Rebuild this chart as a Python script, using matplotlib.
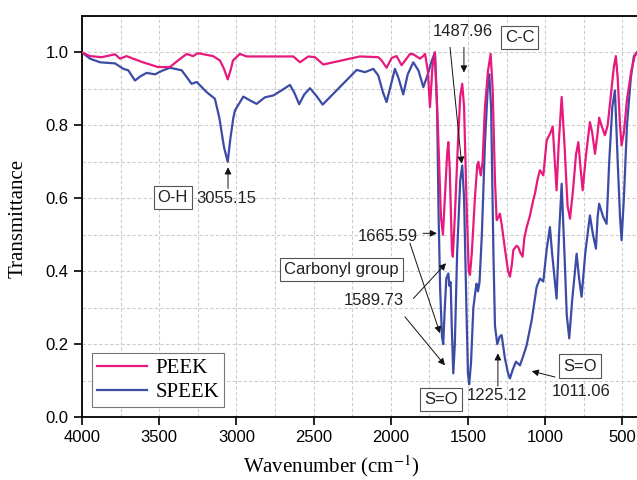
import matplotlib
matplotlib.use("Agg")
import matplotlib.pyplot as plt
from matplotlib.ticker import MultipleLocator

# FTIR spectra (wavenumber, transmittance)
peek_wn = [4000, 3948, 3872, 3786, 3754, 3711, 3669, 3605, 3508, 3430, 3378, 3322, 3281, 3249,
           3151, 3106, 3080, 3056, 3035, 3022, 2977, 2933, 2847, 2761, 2631, 2588, 2534, 2491,
           2437, 2200, 2081, 2059, 2027, 1994, 1962, 1930, 1875, 1854, 1811, 1790, 1778, 1760,
           1746, 1730, 1714, 1695, 1675, 1662, 1650, 1635, 1627, 1618, 1604, 1598, 1585, 1565,
           1550, 1537, 1525, 1510, 1495, 1487, 1475, 1455, 1440, 1433, 1417, 1405, 1390, 1370,
           1353, 1340, 1325, 1314, 1300, 1293, 1282, 1260, 1240, 1228, 1215, 1206, 1185, 1174,
           1160, 1146, 1135, 1120, 1100, 1077, 1066, 1050, 1034, 1012, 990, 965, 951, 940, 926,
           912, 893, 875, 855, 839, 820, 800, 785, 770, 757, 735, 710, 695, 677, 660, 650, 635,
           613, 595, 570, 555, 542, 530, 515, 505, 490, 470, 442, 420, 405]
peek_t = [1.0, 0.99, 0.987, 0.995, 0.983, 0.99, 0.983, 0.973, 0.96, 0.96, 0.978, 0.996, 0.99, 0.998,
          0.99, 0.978, 0.955, 0.926, 0.955, 0.978, 0.996, 0.989, 0.989, 0.989, 0.989, 0.973, 0.989, 0.987,
          0.967, 0.989, 0.987, 0.978, 0.958, 0.985, 0.99, 0.965, 0.996, 0.995, 0.983, 0.99, 0.996, 0.95,
          0.85, 0.96, 1.0, 0.8, 0.55, 0.5, 0.6, 0.72, 0.754, 0.68, 0.46, 0.44, 0.55, 0.75,
          0.88, 0.914, 0.85, 0.6, 0.4, 0.39, 0.45, 0.6, 0.69, 0.7, 0.663, 0.7, 0.85, 0.95,
          0.996, 0.9, 0.65, 0.54, 0.55, 0.558, 0.53, 0.46, 0.4, 0.385, 0.42, 0.458, 0.47, 0.466,
          0.45, 0.44, 0.49, 0.52, 0.55, 0.595, 0.613, 0.65, 0.677, 0.663, 0.759, 0.78, 0.797, 0.72, 0.622,
          0.75, 0.878, 0.75, 0.58, 0.544, 0.62, 0.72, 0.754, 0.68, 0.622, 0.72, 0.809, 0.78, 0.722, 0.78, 0.821, 0.8,
          0.773, 0.8, 0.9, 0.96, 0.99, 0.93, 0.8, 0.745, 0.78, 0.87, 0.95, 0.99, 1.0]

speek_wn = [4000, 3948, 3883, 3786, 3732, 3700, 3657, 3620, 3581, 3527, 3480, 3430, 3354, 3290,
            3257, 3192, 3139, 3110, 3080, 3056, 3040, 3020, 3009, 2955, 2910, 2869, 2815, 2761,
            2707, 2653, 2625, 2593, 2560, 2523, 2480, 2441, 2330, 2221, 2167, 2113, 2081, 2050,
            2027, 2000, 1973, 1950, 1919, 1890, 1854, 1820, 1789, 1760, 1740, 1714, 1700, 1690,
            1680, 1668, 1660, 1650, 1640, 1627, 1620, 1612, 1605, 1595, 1585, 1570, 1550, 1537,
            1525, 1510, 1500, 1492, 1480, 1465, 1450, 1444, 1435, 1425, 1410, 1390, 1370, 1362,
            1350, 1335, 1325, 1310, 1295, 1282, 1260, 1240, 1228, 1210, 1189, 1163, 1140, 1120,
            1087, 1055, 1034, 1012, 990, 969, 955, 926, 910, 893, 875, 860, 844, 825, 796, 780,
            764, 740, 710, 690, 671, 660, 650, 625, 602, 585, 565, 548, 530, 515, 505, 490, 470,
            445, 425, 405]
speek_t = [1.0, 0.983, 0.973, 0.97, 0.955, 0.951, 0.923, 0.935, 0.944, 0.94, 0.95, 0.958, 0.951, 0.914,
           0.919, 0.891, 0.873, 0.82, 0.74, 0.7, 0.76, 0.82, 0.841, 0.879, 0.868, 0.859, 0.877, 0.882,
           0.896, 0.911, 0.89, 0.858, 0.885, 0.902, 0.88, 0.857, 0.905, 0.952, 0.946, 0.955, 0.937, 0.89,
           0.864, 0.91, 0.955, 0.93, 0.885, 0.94, 0.973, 0.95, 0.905, 0.94, 0.97, 1.0, 0.85, 0.55,
           0.35, 0.22, 0.2, 0.3, 0.38, 0.394, 0.36, 0.37, 0.25, 0.12, 0.2, 0.45, 0.65, 0.69,
           0.6, 0.3, 0.12, 0.09, 0.15, 0.3, 0.35, 0.366, 0.345, 0.37, 0.5, 0.75, 0.92, 0.94,
           0.85, 0.45, 0.25, 0.2, 0.22, 0.225, 0.16, 0.12, 0.106, 0.13, 0.152, 0.142, 0.17, 0.197,
           0.266, 0.357, 0.38, 0.372, 0.46, 0.521, 0.45, 0.325, 0.5, 0.64, 0.45, 0.28, 0.216, 0.32, 0.448, 0.38,
           0.33, 0.45, 0.553, 0.5, 0.462, 0.55, 0.585, 0.55, 0.53, 0.7, 0.85, 0.896, 0.7, 0.55, 0.485, 0.6, 0.8,
           0.93, 0.99, 1.0]

plt.rcParams['mathtext.fontset'] = 'stix'
sans = 'Liberation Sans'
serif = 'Liberation Serif'

fig = plt.figure(figsize=(6.37, 4.8), dpi=100)
ax = fig.add_axes([0.1287, 0.131, 0.8713, 0.8357])

ax.plot(peek_wn, peek_t, color='#E8197C', lw=1.6, label='PEEK', zorder=3)
ax.plot(speek_wn, speek_t, color='#3B4BA6', lw=1.6, label='SPEEK', zorder=2)

ax.set_xlim(4000, 405)
ax.set_ylim(0, 1.1)
ax.xaxis.set_major_locator(MultipleLocator(500))
ax.xaxis.set_minor_locator(MultipleLocator(250))
ax.yaxis.set_major_locator(MultipleLocator(0.2))
ax.yaxis.set_minor_locator(MultipleLocator(0.1))
ax.grid(which='both', ls=(0, (3, 2)), color='#cccccc', lw=0.8)
ax.set_axisbelow(True)
ax.tick_params(which='major', direction='out', length=6, width=1.2, labelsize=12)
ax.tick_params(which='minor', length=0)
for lab in ax.get_xticklabels() + ax.get_yticklabels():
    lab.set_fontfamily(sans)
ax.set_yticks([0.0, 0.2, 0.4, 0.6, 0.8, 1.0])
ax.set_yticklabels(['0.0', '0.2', '0.4', '0.6', '0.8', '1.0'], fontfamily=sans)
ax.spines['right'].set_visible(False)
for s in ['left', 'bottom', 'top']:
    ax.spines[s].set_linewidth(1.3)

fig.text(331 / 637, 1 - 466 / 480, 'Wavenumber (cm$^{-1}$)', fontsize=15, fontfamily=serif,
         ha='center', va='center')
fig.text(18 / 637, 1 - 218 / 480, 'Transmittance', fontsize=15, fontfamily=serif,
         rotation=90, ha='center', va='center')

leg = ax.legend(loc='lower left', bbox_to_anchor=(0.018, 0.025), borderaxespad=0,
                fancybox=False, edgecolor='#777777', framealpha=1,
                prop={'family': serif, 'size': 15}, handlelength=2.4,
                handletextpad=0.4, borderpad=0.25, labelspacing=0.2)
leg.get_frame().set_linewidth(0.8)

box = dict(boxstyle='square,pad=0.25', fc='white', ec='#555555', lw=0.8)
arrow = dict(arrowstyle='-|>', color='#111111', lw=0.7, mutation_scale=10, shrinkA=0, shrinkB=0)
tc = '#222222'

# O-H
ax.text(3411, 0.603, 'O-H', fontsize=12, fontfamily=sans, color=tc, ha='center', va='center', bbox=box)
ax.text(3262, 0.600, '3055.15', fontsize=12, fontfamily=sans, color=tc, ha='left', va='center')
ax.annotate('', xy=(3054, 0.685), xytext=(3054, 0.627), arrowprops=arrow)

# C-C
ax.text(1535, 1.058, '1487.96', fontsize=12, fontfamily=sans, color=tc, ha='center', va='center')
ax.text(1166, 1.041, 'C-C', fontsize=12, fontfamily=sans, color=tc, ha='center', va='center', bbox=box)
ax.annotate('', xy=(1526, 0.945), xytext=(1526, 1.014), arrowprops=arrow)
ax.annotate('', xy=(1541, 0.695), xytext=(1616, 1.014), arrowprops=arrow)

# carbonyl
ax.text(2018, 0.496, '1665.59', fontsize=12, fontfamily=sans, color=tc, ha='center', va='center')
ax.annotate('', xy=(1701, 0.504), xytext=(1791, 0.504), arrowprops=arrow)
ax.annotate('', xy=(1681, 0.23), xytext=(1876, 0.477), arrowprops=arrow)
ax.text(2319, 0.405, 'Carbonyl group', fontsize=12, fontfamily=sans, color=tc,
        ha='center', va='center', bbox=box)
ax.text(2112, 0.319, '1589.73', fontsize=12, fontfamily=sans, color=tc, ha='center', va='center')
ax.annotate('', xy=(1642, 0.422), xytext=(1854, 0.325), arrowprops=arrow)
ax.annotate('', xy=(1649, 0.142), xytext=(1908, 0.275), arrowprops=arrow)

# S=O
ax.text(1676, 0.049, 'S=O', fontsize=12, fontfamily=sans, color=tc, ha='center', va='center', bbox=box)
ax.text(1309, 0.058, '1225.12', fontsize=12, fontfamily=sans, color=tc, ha='center', va='center')
ax.annotate('', xy=(1306, 0.175), xytext=(1306, 0.085), arrowprops=arrow)
ax.text(774, 0.14, 'S=O', fontsize=12, fontfamily=sans, color=tc, ha='center', va='center', bbox=box)
ax.text(768, 0.07, '1011.06', fontsize=12, fontfamily=sans, color=tc, ha='center', va='center')
ax.annotate('', xy=(1087, 0.126), xytext=(936, 0.11), arrowprops=arrow)

fig.savefig('out.png', dpi=100)
